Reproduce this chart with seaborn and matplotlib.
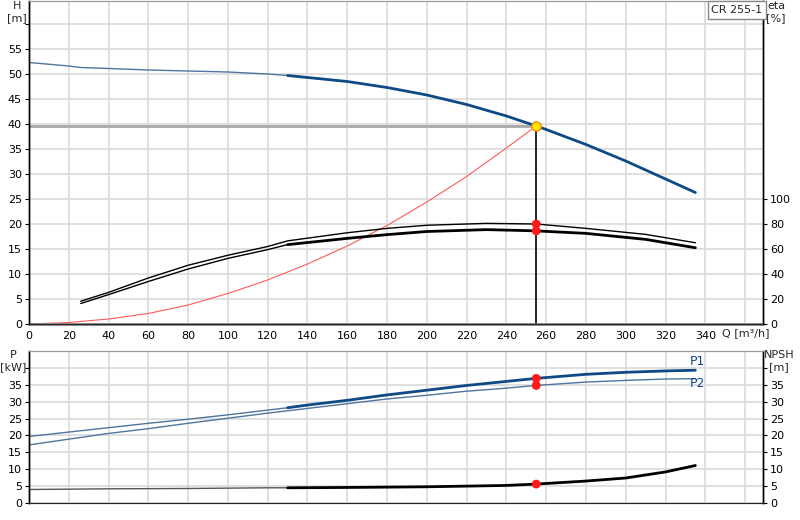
import numpy as np
import pandas as pd
import seaborn as sns
import matplotlib.pyplot as plt

sns.set_style("white")
plt.rcParams['font.family'] = ['DejaVu Sans']
plt.rcParams['font.size'] = 8

# head curve H [m]
q_head = [0, 20, 26, 40, 60, 80, 100, 120, 130, 140, 160, 180, 200, 220, 240, 255, 260, 280, 300, 320, 335]
h_head = [52.3, 51.6, 51.3, 51.1, 50.8, 50.6, 50.4, 50.0, 49.7, 49.3, 48.5, 47.3, 45.8, 43.9, 41.6, 39.6, 38.9, 35.9, 32.6, 29.0, 26.3]

# system curve (red)
q_sys = [0, 20, 40, 60, 80, 100, 120, 140, 160, 180, 200, 220, 240, 255]
h_sys = [0, 0.3, 1.0, 2.1, 3.8, 6.1, 8.8, 12.0, 15.6, 19.7, 24.4, 29.5, 35.2, 39.6]

# efficiency curves [%]
q_eta = [26, 40, 60, 80, 100, 120, 130, 160, 180, 200, 230, 255, 280, 310, 335]
eta_upper = [18.2, 25.3, 36.8, 47, 55, 62, 66.5, 73, 76.5, 79, 80.5, 80, 76.5, 71.7, 65]
eta_lower = [16.4, 23.5, 34, 44, 52.5, 59.5, 63.5, 68.5, 71.5, 74, 75.5, 74.5, 72.5, 67.7, 61]

# power curves [kW]
q_pow = [0, 20, 40, 60, 80, 100, 120, 130, 140, 160, 180, 200, 220, 240, 255, 280, 300, 320, 335]
p1 = [19.7, 21.0, 22.3, 23.6, 24.8, 26.1, 27.5, 28.2, 29.0, 30.4, 32.0, 33.4, 34.8, 36.0, 36.9, 38.1, 38.7, 39.1, 39.3]
p2 = [17.2, 18.9, 20.6, 22.0, 23.6, 25.1, 26.6, 27.3, 28.0, 29.4, 30.8, 31.9, 33.1, 34.0, 34.8, 35.8, 36.3, 36.7, 36.8]

# NPSH [m]
q_npsh = [0, 40, 80, 120, 130, 160, 180, 200, 240, 255, 280, 300, 320, 335]
npsh = [4.0, 4.2, 4.3, 4.5, 4.5, 4.6, 4.7, 4.8, 5.2, 5.6, 6.5, 7.4, 9.2, 11.1]

# duty point
q_op = 255
h_op = 39.6
eta_op = [80, 74.5]
p_op = [36.9, 34.8]
npsh_op = 5.6

x_ticks = list(range(0, 361, 20))
x_labels = [str(v) for v in range(0, 341, 20)] + ['']
blue = '#0e4a85'
blue_thin = '#4f74a0'
grid_c = '#dadada'

fig = plt.figure(figsize=(8, 5.2), dpi=100)
ax_h = fig.add_axes([29/800, 1 - 324/520, 734/800, 323/520])
ax_eta = ax_h.twinx()
ax_p = fig.add_axes([29/800, 1 - 503/520, 734/800, 152/520])
ax_n = ax_p.twinx()

split = 130
hq = np.array(q_head)
hh = np.array(h_head)
thin = hq <= split
thick = hq >= split

# top panel
sns.lineplot(x=hq[thin], y=hh[thin], ax=ax_h, color=blue_thin, lw=1.0)
sns.lineplot(x=hq[thick], y=hh[thick], ax=ax_h, color=blue, lw=2.0)
sns.lineplot(x=q_sys, y=h_sys, ax=ax_h, color='#ff5a5a', lw=0.8)
ax_h.plot([0, q_op], [h_op, h_op], color='#a8a8a8', lw=2, zorder=1)
ax_h.plot([q_op, q_op], [0, h_op], color='black', lw=1.2, zorder=2)
sns.scatterplot(x=[q_op], y=[h_op], ax=ax_h, color='#ffe600', edgecolor='#ff8c00',
                linewidth=1, s=45, zorder=6)

eq = np.array(q_eta)
eu = np.array(eta_upper)
el = np.array(eta_lower)
ethin = eq <= split
ethick = eq >= split
sns.lineplot(x=eq, y=eu, ax=ax_eta, color='black', lw=1.0)
sns.lineplot(x=eq[ethin], y=el[ethin], ax=ax_eta, color='black', lw=1.0)
sns.lineplot(x=eq[ethick], y=el[ethick], ax=ax_eta, color='black', lw=2.0)
sns.scatterplot(x=[q_op, q_op], y=eta_op, ax=ax_eta, color='#ff1a1a', edgecolor='none', s=40, zorder=6)

ax_h.set_xlim(0, 369)
ax_h.set_ylim(0, 64.6)
ax_eta.set_ylim(0, 64.6 * 4)
ax_h.set_xticks(x_ticks)
ax_h.set_xticklabels(x_labels)
ax_h.set_yticks(range(0, 61, 5))
ax_h.set_yticklabels([str(v) for v in range(0, 56, 5)] + [''])
ax_eta.set_yticks(range(0, 101, 20))
ax_h.grid(True, color=grid_c, lw=1.2)
ax_h.set_axisbelow(True)

# bottom panel
pq = np.array(q_pow)
a1 = np.array(p1)
pthin = pq <= split
pthick = pq >= split
sns.lineplot(x=pq[pthin], y=a1[pthin], ax=ax_p, color=blue_thin, lw=1.0)
sns.lineplot(x=pq[pthick], y=a1[pthick], ax=ax_p, color=blue, lw=2.0)
sns.lineplot(x=q_pow, y=p2, ax=ax_p, color=blue_thin, lw=1.0)
sns.scatterplot(x=[q_op, q_op], y=p_op, ax=ax_p, color='#ff1a1a', edgecolor='none', s=40, zorder=6)
ax_p.text(336, 41.8, 'P1', color=blue, ha='center', va='center', fontsize=9)
ax_p.text(336, 35.3, 'P2', color=blue, ha='center', va='center', fontsize=9)

nq = np.array(q_npsh)
nv = np.array(npsh)
sns.lineplot(x=nq[nq <= split], y=nv[nq <= split], ax=ax_n, color='#555555', lw=1.0)
sns.lineplot(x=nq[nq >= split], y=nv[nq >= split], ax=ax_n, color='black', lw=2.0)
sns.scatterplot(x=[q_op], y=[npsh_op], ax=ax_n, color='#ff1a1a', edgecolor='none', s=40, zorder=6)

ax_p.set_xlim(0, 369)
ax_p.set_ylim(0, 45)
ax_n.set_ylim(0, 45)
ax_p.set_xticks(x_ticks)
ax_p.set_xticklabels([])
ax_p.set_yticks(range(0, 41, 5))
ax_p.set_yticklabels([str(v) for v in range(0, 36, 5)] + [''])
ax_n.set_yticks(range(0, 41, 5))
ax_n.set_yticklabels([str(v) for v in range(0, 36, 5)] + [''])
ax_p.grid(True, color=grid_c, lw=1.2)
ax_p.set_axisbelow(True)

for ax in (ax_h, ax_eta, ax_p, ax_n):
    ax.set_xlabel('')
    ax.set_ylabel('')
    ax.tick_params(axis='both', labelsize=8, length=3, width=0.8, pad=2, colors='black')
    for side in ('left', 'right'):
        ax.spines[side].set_color('black')
        ax.spines[side].set_linewidth(1)
    ax.spines['top'].set_color('#999999')
ax_h.spines['bottom'].set_color('#888888')
ax_h.spines['bottom'].set_linewidth(2)
ax_h.tick_params(axis='x', length=0, pad=5)
ax_p.tick_params(axis='x', length=0)
ax_p.spines['bottom'].set_color('#444444')

# labels
fig.text(17/800, 1 - 6/520, 'H', ha='center', va='center', fontsize=8)
fig.text(17/800, 1 - 18/520, '[m]', ha='center', va='center', fontsize=8)
fig.text(776/800, 1 - 6/520, 'eta', ha='center', va='center', fontsize=8)
fig.text(776/800, 1 - 18/520, '[%]', ha='center', va='center', fontsize=8)
fig.text(737/800, 1 - 10/520, 'CR 255-1', ha='center', va='center', fontsize=8,
         bbox=dict(boxstyle='square,pad=0.35', fc='white', ec='#888888', lw=1))
fig.text(722/800, 1 - 333/520, 'Q [m³/h]', ha='left', va='center', fontsize=8)
fig.text(13/800, 1 - 355/520, 'P', ha='center', va='center', fontsize=8)
fig.text(13/800, 1 - 367/520, '[kW]', ha='center', va='center', fontsize=8)
fig.text(779/800, 1 - 355/520, 'NPSH', ha='center', va='center', fontsize=8)
fig.text(779/800, 1 - 367/520, '[m]', ha='center', va='center', fontsize=8)

fig.savefig('out.png', dpi=100)
